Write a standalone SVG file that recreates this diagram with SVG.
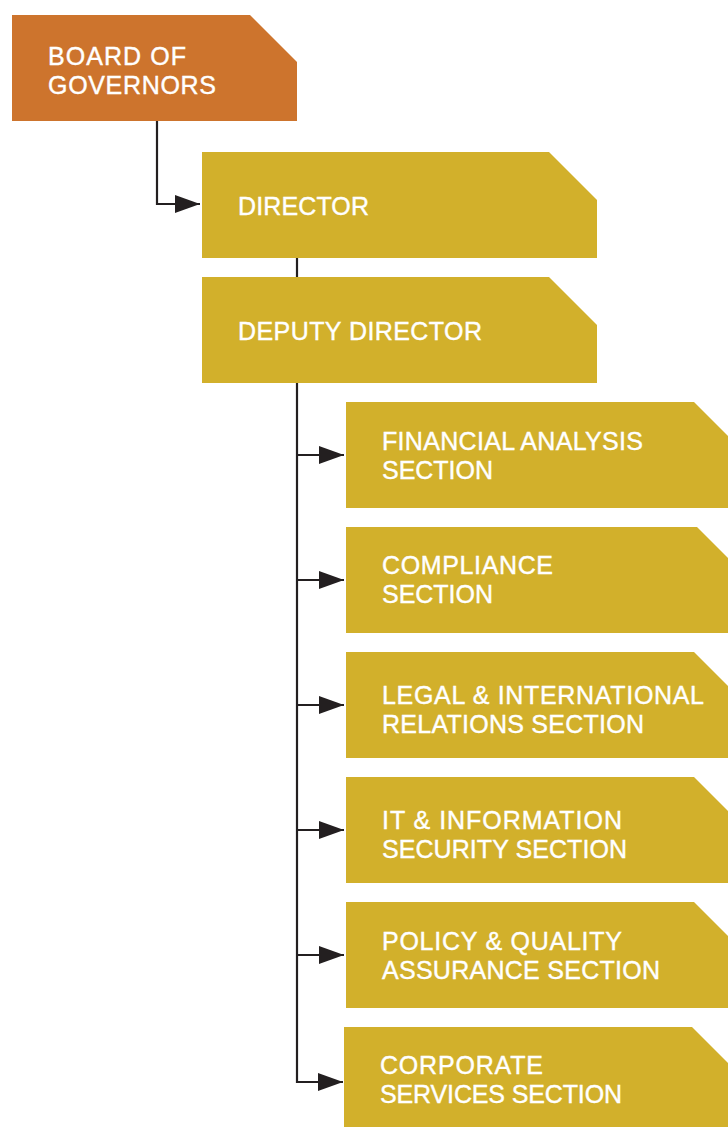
<svg xmlns="http://www.w3.org/2000/svg" width="728" height="1127" viewBox="0 0 728 1127">
<style>
.gold{fill:#D2B02B}
.orange{fill:#CD742D}
.t{font-family:"Liberation Sans",Arial,sans-serif;font-size:25px;fill:#FFFFFF;stroke:#FFFFFF;stroke-width:0.4}
.c{stroke:#231F20;stroke-width:2.2;fill:none}
</style>
<defs>
<marker id="ah" markerWidth="25" markerHeight="18" refX="25" refY="9" orient="auto" markerUnits="userSpaceOnUse">
<path d="M0,0 L25,9 L0,18 Z" fill="#231F20"/>
</marker>
</defs>
<rect width="728" height="1127" fill="#FFFFFF"/>
<g id="connectors">
<path class="c" d="M157,121 V204 H200" marker-end="url(#ah)"/>
<path class="c" d="M297,258 V277"/>
<path class="c" d="M297,383 V1082 H343" marker-end="url(#ah)"/>
<path class="c" d="M297,455 H344" marker-end="url(#ah)"/>
<path class="c" d="M297,580 H344" marker-end="url(#ah)"/>
<path class="c" d="M297,705 H344" marker-end="url(#ah)"/>
<path class="c" d="M297,830 H344" marker-end="url(#ah)"/>
<path class="c" d="M297,955 H344" marker-end="url(#ah)"/>
</g>
<g id="board">
<path class="orange" d="M12,15 H250 L297,62 V121 H12 Z"/>
<text class="t" x="48" y="65" textLength="138">BOARD OF</text>
<text class="t" x="48" y="94" textLength="168">GOVERNORS</text>
</g>
<g id="director">
<path class="gold" d="M202,152 H549 L597,200 V258 H202 Z"/>
<text class="t" x="238" y="215" textLength="131">DIRECTOR</text>
</g>
<g id="deputy">
<path class="gold" d="M202,277 H549 L597,325 V383 H202 Z"/>
<text class="t" x="238" y="340" textLength="244">DEPUTY DIRECTOR</text>
</g>
<g id="financial">
<path class="gold" d="M346,402 H694 L742,450 V508 H346 Z"/>
<text class="t" x="382" y="450" textLength="261">FINANCIAL ANALYSIS</text>
<text class="t" x="382" y="479" textLength="111">SECTION</text>
</g>
<g id="compliance">
<path class="gold" d="M346,527 H697 L745,575 V633 H346 Z"/>
<text class="t" x="382" y="574" textLength="171">COMPLIANCE</text>
<text class="t" x="382" y="603" textLength="111">SECTION</text>
</g>
<g id="legal">
<path class="gold" d="M346,652 H694 L742,700 V758 H346 Z"/>
<text class="t" x="382" y="704" textLength="322">LEGAL &amp; INTERNATIONAL</text>
<text class="t" x="382" y="733" textLength="262">RELATIONS SECTION</text>
</g>
<g id="it">
<path class="gold" d="M346,777 H694 L742,825 V883 H346 Z"/>
<text class="t" x="382" y="829" textLength="240">IT &amp; INFORMATION</text>
<text class="t" x="382" y="858" textLength="245">SECURITY SECTION</text>
</g>
<g id="policy">
<path class="gold" d="M346,902 H694 L742,950 V1008 H346 Z"/>
<text class="t" x="382" y="950" textLength="240">POLICY &amp; QUALITY</text>
<text class="t" x="382" y="979" textLength="278">ASSURANCE SECTION</text>
</g>
<g id="corporate">
<path class="gold" d="M344,1027 H692 L740,1075 V1133 H344 Z"/>
<text class="t" x="380" y="1074" textLength="163">CORPORATE</text>
<text class="t" x="380" y="1103" textLength="242">SERVICES SECTION</text>
</g>
</svg>
